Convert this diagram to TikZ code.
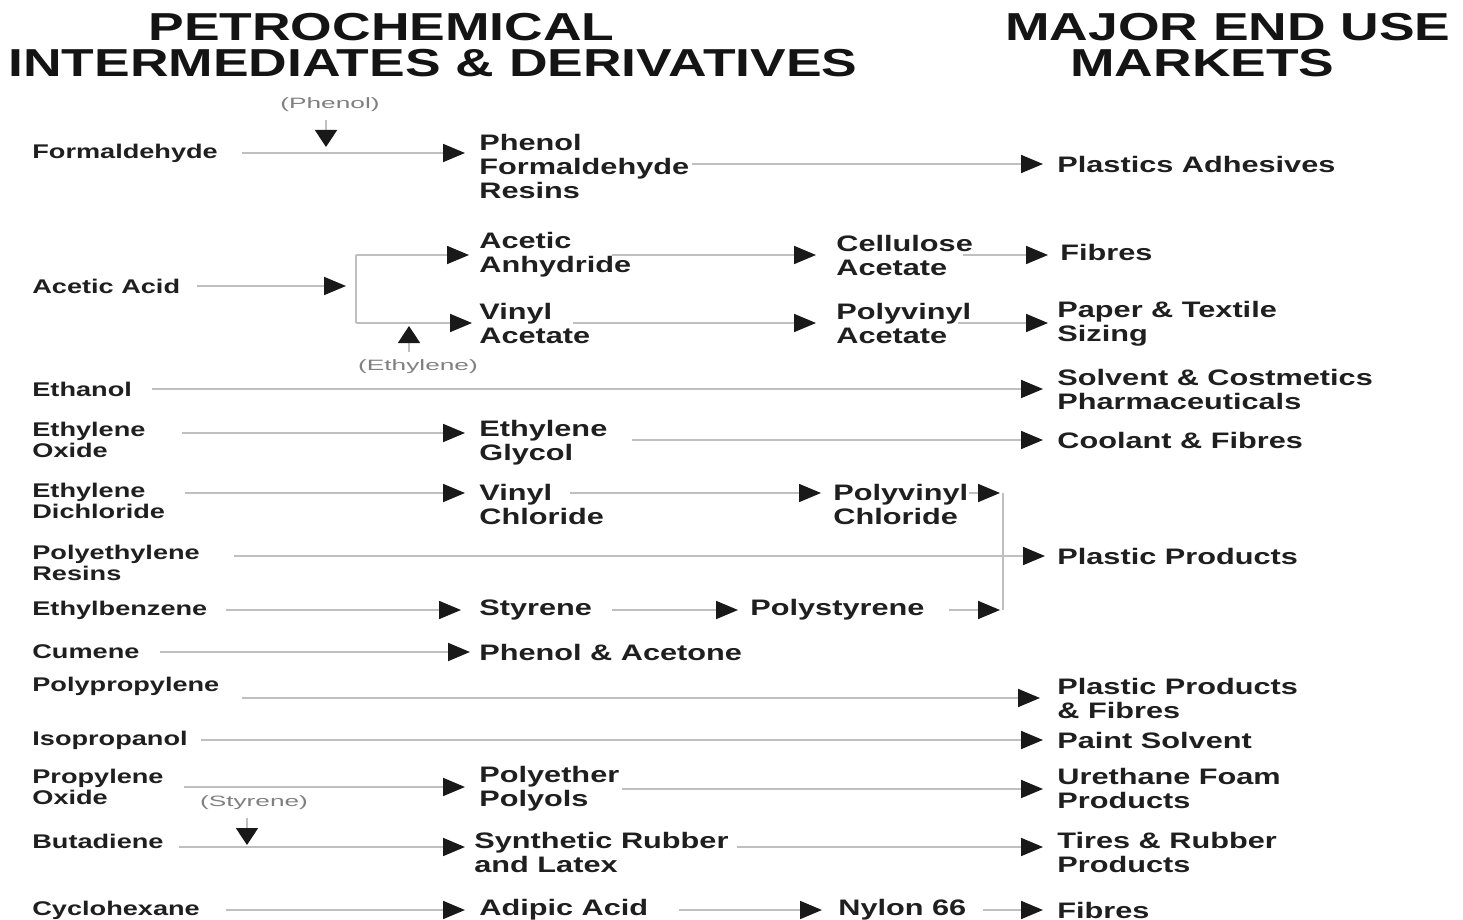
\documentclass[tikz,border=0pt]{standalone}
\usepackage{fontspec}
\usetikzlibrary{arrows.meta}
\newfontfamily\labelfont{Liberation Sans}[FakeStretch=1.37]
\newfontfamily\notefont{Liberation Sans}[FakeStretch=1.75]

\begin{document}
\begin{tikzpicture}[x=0.5pt, y=-0.5pt,
    head/.style={anchor=base west, inner sep=0pt, text height=14.2pt, text depth=0pt, text=black!92, font=\labelfont\bfseries\fontsize{19.5}{20}\selectfont},
    src/.style={anchor=west, inner sep=0pt, align=left, text=black!88, font=\labelfont\bfseries\fontsize{9.9}{10.3}\selectfont},
    prod/.style={anchor=west, inner sep=0pt, align=left, text=black!88, font=\labelfont\bfseries\fontsize{11.2}{12}\selectfont},
    note/.style={inner sep=1pt, text=black!50, font=\notefont\fontsize{7.5}{8}\selectfont},
    wire/.style={draw=black!25, line width=0.9pt},
    flow/.style={wire, -{Triangle[length=11pt,width=9pt,color=black!90]}, shorten <=10pt, shorten >=7pt},
    feed/.style={wire, -{Triangle[length=8.5pt,width=11pt,color=black!90]}, shorten <=3pt}]
  \useasboundingbox[fill=white] (0,0) rectangle (1463,920);

  % Headings
  \node[head] (hpet) at (148,41) {PETROCHEMICAL};
  \node[head] (hint) at (8,77) {INTERMEDIATES \& DERIVATIVES};
  \node[head] (hmaj) at (1005,41) {MAJOR END USE};
  \node[head] (hmkt) at (1070,77) {MARKETS};

  % Intermediates
  \node[src] (form) at (32,153) {Formaldehyde};
  \node[src] (acac) at (32,286) {Acetic Acid};
  \node[src] (eth)  at (32,389) {Ethanol};
  \node[src] (eo)   at (32,440) {Ethylene\\Oxide};
  \node[src] (edc)  at (32,501) {Ethylene\\Dichloride};
  \node[src] (per)  at (32,563) {Polyethylene\\Resins};
  \node[src] (ebz)  at (32,610) {Ethylbenzene};
  \node[src] (cum)  at (32,652) {Cumene};
  \node[src] (ppl)  at (32,686) {Polypropylene};
  \node[src] (ipa)  at (32,740) {Isopropanol};
  \node[src] (po)   at (32,787) {Propylene\\Oxide};
  \node[src] (bd)   at (32,841) {Butadiene};
  \node[src] (chx)  at (32,910) {Cyclohexane};

  % Derivatives
  \node[prod] (pfr)  at (479,166) {Phenol\\Formaldehyde\\Resins};
  \node[prod] (aanh) at (479,255) {Acetic\\Anhydride};
  \node[prod] (vac)  at (479,323) {Vinyl\\Acetate};
  \node[prod] (eg)   at (479,443) {Ethylene\\Glycol};
  \node[prod] (vcl)  at (479,504) {Vinyl\\Chloride};
  \node[prod] (sty)  at (479,610) {Styrene};
  \node[prod] (pha)  at (479,652) {Phenol \& Acetone};
  \node[prod] (pep)  at (479,789) {Polyether\\Polyols};
  \node[prod] (sbr)  at (474,852) {Synthetic Rubber\\and Latex};
  \node[prod] (adp)  at (479,910) {Adipic Acid};
  \node[prod] (cela) at (836,255) {Cellulose\\Acetate};
  \node[prod] (pvac) at (836,323) {Polyvinyl\\Acetate};
  \node[prod] (pvc)  at (833,504) {Polyvinyl\\Chloride};
  \node[prod] (ps)   at (750,610) {Polystyrene};
  \node[prod] (nyl)  at (838,910) {Nylon 66};

  % End use markets
  \node[prod] (padh) at (1057,164) {Plastics Adhesives};
  \node[prod] (fib1) at (1060,252) {Fibres};
  \node[prod] (ppr)  at (1057,324) {Paper \& Textile\\Sizing};
  \node[prod] (sol)  at (1057,389) {Solvent \& Costmetics\\Pharmaceuticals};
  \node[prod] (cool) at (1057,440) {Coolant \& Fibres};
  \node[prod] (plp)  at (1057,556) {Plastic Products};
  \node[prod] (ppf)  at (1057,698) {Plastic Products\\\& Fibres};
  \node[prod] (pnt)  at (1057,740) {Paint Solvent};
  \node[prod] (ure)  at (1057,788) {Urethane Foam\\Products};
  \node[prod] (tir)  at (1057,852) {Tires \& Rubber\\Products};
  \node[prod] (fib2) at (1057,910) {Fibres};

  % Co-reactants
  \node[note] (phen) at (330,105) {(Phenol)};
  \node[note] (ethy) at (418,367) {(Ethylene)};
  \node[note] (styr) at (254,803) {(Styrene)};

  % Junctions and line rows
  \coordinate (j1) at (356,289);
  \coordinate (j2) at (1003,556);
  \coordinate (phin) at (326,147);
  \coordinate (ethin) at (409,326);
  \coordinate (styin) at (247,845);
  \coordinate (eoout) at ([yshift=3.5pt]eo.east);
  \coordinate (edcout) at ([yshift=4pt]edc.east);
  \coordinate (bdout) at ([yshift=-3pt]bd.east);

  % Flows
  \draw[flow, shorten <=12pt] (form.east) -- (pfr.west |- form.east);
  \draw[flow, shorten <=1pt] (pfr.east |- padh.west) -- (padh.west);
  \draw[flow, shorten <=8pt, shorten >=5pt] (acac.east) -- (j1 |- acac.east);
  \draw[wire] (j1 |- aanh.west) -- (j1 |- vac.west);
  \draw[flow, shorten <=0pt, shorten >=5pt] (j1 |- aanh.west) -- (aanh.west);
  \draw[flow, shorten <=0pt, shorten >=3.5pt] (j1 |- vac.west) -- (vac.west);
  \draw[flow, shorten <=-10pt, shorten >=10pt] (aanh.east) -- (cela.west |- aanh.east);
  \draw[flow, shorten <=-5pt, shorten >=6pt] (cela.east) -- (fib1.west |- cela.east);
  \draw[flow, shorten <=-9pt, shorten >=10pt] (vac.east) -- (pvac.west |- vac.east);
  \draw[flow, shorten <=-7pt, shorten >=4.5pt] (pvac.east) -- (ppr.west |- pvac.east);
  \draw[flow] (eth.east) -- (sol.west |- eth.east);
  \draw[flow, shorten <=18pt] (eoout) -- (eg.west |- eoout);
  \draw[flow, shorten <=12pt] (eg.east |- cool.west) -- (cool.west);
  \draw[flow] (edcout) -- (vcl.west |- edcout);
  \draw[flow, shorten <=-17pt, shorten >=6pt] (vcl.east |- edcout) -- (pvc.west |- edcout);
  \draw[flow, shorten <=0pt, shorten >=1.5pt] (pvc.east |- edcout) -- (j2 |- edcout);
  \draw[wire] (j2 |- edcout) -- (j2 |- ps.east);
  \draw[flow, shorten <=17pt, shorten >=6pt] (per.east |- plp.west) -- (plp.west);
  \draw[flow, shorten <=9pt, shorten >=9pt] (ebz.east) -- (sty.west |- ebz.east);
  \draw[flow, shorten >=6pt] (sty.east) -- (ps.west |- sty.east);
  \draw[flow, shorten <=12pt, shorten >=1.5pt] (ps.east) -- (j2 |- ps.east);
  \draw[flow, shorten >=4.5pt] (cum.east) -- (pha.west |- cum.east);
  \draw[flow, shorten <=11pt, shorten >=8.5pt] (ppl.east |- ppf.west) -- (ppf.west);
  \draw[flow, shorten <=6.5pt] (ipa.east) -- (pnt.west |- ipa.east);
  \draw[flow] (po.east) -- (pep.west |- po.east);
  \draw[flow, shorten <=1pt] (pep.east) -- (ure.west |- pep.east);
  \draw[flow, shorten <=7.5pt, shorten >=4.5pt] (bdout) -- (sbr.west |- bdout);
  \draw[flow, shorten <=4pt] (sbr.east |- bdout) -- (tir.west |- bdout);
  \draw[flow, shorten <=13pt] (chx.east) -- (adp.west |- chx.east);
  \draw[flow, shorten <=15pt, shorten >=8pt] (adp.east) -- (nyl.west |- adp.east);
  \draw[flow, shorten <=8pt] (nyl.east) -- (fib2.west |- nyl.east);

  % Co-reactant feeds
  \draw[feed] (phen.south -| phin) -- (phin);
  \draw[feed] (ethy.north -| ethin) -- (ethin);
  \draw[feed] (styr.south -| styin) -- (styin);
\end{tikzpicture}
\end{document}
